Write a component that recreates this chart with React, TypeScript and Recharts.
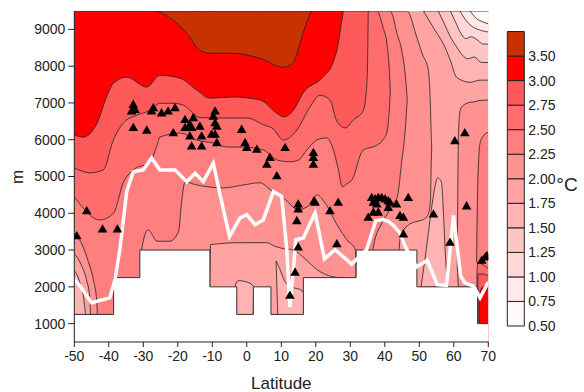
import React from "react";
import { ComposedChart, Area, Line, Scatter, XAxis, YAxis, ZAxis, BarChart, Bar } from "recharts";

// [lat, lower m, upper m]; upper defaults to the top of the plot
type Span = number[];

const TOP = 9500;
const BOT = 500;

const latTicks = [-50, -40, -30, -20, -10, 0, 10, 20, 30, 40, 50, 60, 70];
const depthTicks = [1000, 2000, 3000, 4000, 5000, 6000, 7000, 8000, 9000];

const levelLabels = ["0.50", "0.75", "1.00", "1.25", "1.50", "1.75", "2.00", "2.25", "2.50", "2.75", "3.00", "3.50"];
const bandColors = ["#fff8f8", "#ffe9e9", "#ffd7d7", "#ffc5c5", "#ffb3b3", "#ffa3a3", "#ff9191", "#ff7f7f", "#ff6d6d", "#ff5a5a", "#ff0000", "#c83200"];

const wholeField: Span[] = [[-50, BOT], [70, BOT]];

// warm side (>= level), upper part of the section
const ge200: Span[] = [[-50, 2900], [-48, 2600], [-46.5, 2200], [-45.5, 1700], [-45, 500], [-11, 500], [-10.5, 3150], [-8, 3170], [-3.8, 3200], [0, 3200], [5.8, 3200], [7.7, 3120], [10, 3050], [13.5, 3000], [17, 2750], [20.3, 2470], [24.6, 2280], [26.3, 2250], [26.8, 500], [43, 500], [44.4, 3280], [46.4, 3650, 9500], [49.3, 3780, 8780], [51, 3820, 8300], [52.5, 3950, 7950], [53.2, 4300, 7000], [53.5, 5500, 6000], [53.6, 5800, 5800]];
const ge225: Span[] = [[-50, 3450], [-48, 3200], [-46, 2700], [-44.5, 2200], [-43.5, 1600], [-43, 500], [-31, 500], [-30.5, 3000], [-28.6, 3550], [-26, 3240], [-22.3, 3240], [-19.8, 3500], [-18.9, 4300], [-17.9, 4850], [-14.5, 4770], [-6.8, 4690], [-1, 4770], [3.8, 4830], [6.8, 4640], [10.6, 4420], [14.9, 4100], [18.3, 4230], [20.3, 4500], [22.7, 4280], [26.5, 3630], [29, 3280], [31.5, 3000], [32, 500], [35.3, 500], [36.7, 3090], [39.2, 3740], [41.5, 4100, 9500], [42.2, 4250, 9400], [43.5, 4400, 8900], [44.9, 5400, 8430], [46, 6350, 7700], [46.5, 7100, 7100]];
const ge250: Span[] = [[-50, 4450], [-47, 4100], [-44, 3850], [-42.5, 3820], [-38.6, 4010], [-35.8, 4830], [-32.9, 5180], [-28, 5400], [-26, 5850], [-25.2, 6070], [-19.3, 6180], [-14.5, 5990], [-9.7, 5910], [-5.7, 5800], [-1, 5800], [4.8, 5720], [8.7, 5450], [12.5, 5400], [15, 5450], [17.4, 5720], [20.3, 5990], [23.2, 6050], [25.1, 5720], [26.5, 5200], [27.7, 4720], [29, 4800], [30.5, 4910], [33.7, 5720], [37.7, 5850, 9500], [39.5, 6000, 9050], [40.6, 6200, 8620], [41.3, 6800, 7900], [41.6, 7300, 7300]];
const ge275: Span[] = [[-50, 5230], [-45.4, 5100], [-41.6, 5180], [-38.7, 5990], [-35.8, 6450], [-31.8, 6670], [-28, 6800], [-25.2, 6990], [-21.3, 6990], [-18.4, 6940], [-13.6, 6600], [-9.7, 6590], [0, 6590], [5, 6400], [7.6, 6300], [10.6, 5990], [14.5, 6260], [18.3, 6890], [21.2, 7210], [24.1, 7080], [26, 6530], [28.5, 6320], [30.8, 6530], [33.8, 6800], [34.9, 7700], [35.1, 8700], [35.2, 9500, 9500]];
const ge300: Span[] = [[-50, 6130], [-47.5, 6070], [-43.4, 6450], [-40.5, 7200], [-38.7, 7530], [-34.8, 7700], [-29, 7430], [-25.2, 7750], [-19.3, 7670], [-14.5, 7350], [-10.7, 7130], [-4, 7160], [3.8, 7080], [8.7, 6720], [10.6, 6620], [13.5, 6800], [16.3, 7270], [22, 7700], [25, 8100], [26.5, 8600], [27.3, 9100], [28, 9500, 9500]];
const ge350: Span[] = [[-26, 9500, 9500], [-21.2, 9240], [-17.4, 8890], [-13.6, 8430], [-10.7, 8350], [-4, 8350], [3.9, 8210], [10.6, 7970], [13.5, 8100], [15.4, 8620], [17, 9100], [18.7, 9500, 9500]];

// warm pocket near the northern end
const north200: Span[] = [[61, 2600, 2600], [61.4, 2000, 6300], [62, 2000, 6850], [64, 2000, 7000], [66.8, 2000, 7050], [67, 500, 7060], [70, 500, 7080]];
const north225: Span[] = [[66.6, 2700, 2700], [67, 2600, 5000], [67.6, 2500, 5900], [68.5, 2400, 6100], [70, 2300, 6200]];
const north250: Span[] = [[66.7, 2350, 2350], [67, 500, 2650], [68.5, 500, 2600], [70, 500, 2500]];
const north275: Span[] = [[66.95, 2200, 2200], [67.1, 500, 2350], [68.5, 500, 2350], [70, 500, 2300]];
const north300: Span[] = [[67.3, 1500, 1500], [67.7, 500, 1900], [68.5, 500, 2000], [70, 500, 2050]];

// cold side (< level)
const lt175South: Span[] = [[-50, 500, 2450], [-48.5, 500, 2150], [-47.3, 500, 1700], [-46.8, 1300, 1300]];
const lt175Gap: Span[] = [[-3.3, 2050, 2050], [-2.5, 500, 2170], [0, 500, 2130], [1.6, 500, 2050], [2, 2000, 2000]];
const lt175Trough: Span[] = [[8.5, 2700, 2700], [9.5, 500, 2500], [11, 500, 2150], [13, 500, 2000], [16, 500, 1900], [16.6, 1800, 1800]];
const lt175Tongue: Span[] = [[50.5, 2000, 2000], [52, 2000, 3000], [53.5, 2000, 4100], [54.5, 2000, 4700], [55.3, 2000, 4960], [56.4, 2000, 4850], [57, 2000, 4000], [57.6, 2000, 2800], [58.3, 2000, 2000]];
const lt175Top: Span[] = [[51.2, 9500, 9500], [54.6, 8970], [56.9, 8620], [59, 8160], [60.8, 7700], [64.7, 7560], [67.6, 7620], [70, 7620]];
const lt150Top: Span[] = [[55.5, 9500, 9500], [57.5, 9100], [59, 8800], [61, 8500], [62.5, 8300], [64, 8200], [66, 8250], [68, 8100], [70, 8100]];
const lt125Top: Span[] = [[59, 9500, 9500], [60.5, 9200], [62, 8900], [63.5, 8750], [65, 8800], [67, 8700], [68.5, 8600], [70, 8600]];
const lt100Top: Span[] = [[61.8, 9500, 9500], [63.5, 9250], [65, 9100], [67, 9000], [70, 8930]];
const lt075Top: Span[] = [[64.7, 9500, 9500], [66.5, 9300], [68.5, 9200], [70, 9150]];

const layers: { band: number; pts: Span[] }[] = [
  { band: 6, pts: ge200 },
  { band: 6, pts: north200 },
  { band: 7, pts: ge225 },
  { band: 7, pts: north225 },
  { band: 8, pts: ge250 },
  { band: 8, pts: north250 },
  { band: 9, pts: ge275 },
  { band: 9, pts: north275 },
  { band: 10, pts: ge300 },
  { band: 10, pts: north300 },
  { band: 11, pts: ge350 },
  { band: 4, pts: lt175South },
  { band: 4, pts: lt175Gap },
  { band: 4, pts: lt175Trough },
  { band: 4, pts: lt175Tongue },
  { band: 4, pts: lt175Top },
  { band: 3, pts: lt150Top },
  { band: 2, pts: lt125Top },
  { band: 1, pts: lt100Top },
  { band: 0, pts: lt075Top },
];

// ridge / seafloor steps: [lat, top of bottom]
const seafloor = [[-50, 1250], [-38.6, 2250], [-31, 3000], [-10.7, 2000], [-2.9, 1250], [1.9, 2000], [7, 1250], [16.4, 2250], [31.7, 3000], [49.3, 2000], [66.9, 1000], [70, 1000]];

// white profile: [lat, m]
const profile = [[-50, 2200], [-48.3, 2020], [-45, 1570], [-39.7, 1700], [-38.2, 2200], [-36.8, 3010], [-34.8, 4600], [-32.9, 5130], [-30, 5180], [-27.6, 5500], [-25.2, 5180], [-20.8, 5180], [-17.4, 4860], [-15, 5090], [-12.6, 4860], [-9.7, 5360], [-7.5, 4400], [-5, 3370], [-2, 3870], [0, 3960], [2.4, 3690], [4.8, 3820], [7.7, 4590], [10.1, 4460], [11.6, 3010], [12.5, 1450], [13.5, 2470], [14.2, 3280], [16.4, 3330], [19.8, 4010], [22.5, 2760], [25.6, 3010], [30.4, 2620], [34.7, 3010], [37.4, 3800], [39.5, 3830], [41, 3780], [42.5, 3670], [44.4, 3460], [45.9, 3100], [49.2, 2540], [52.3, 2720], [55.2, 2060], [57.9, 2040], [59.9, 3940], [62, 2290], [63.2, 2110], [65.7, 2020], [67.6, 1700], [70, 2130]];

// triangles: [lat, m]
const stations = [
  [-32.9, 6940], [-32.4, 6800], [-33.4, 6760], [-27.1, 6850], [-27.6, 6760], [-24.7, 6710], [-22.8, 6760], [-20.8, 6850],
  [-32.9, 6310], [-29, 6240], [-21.3, 6170], [-17.9, 6530], [-16.5, 6400], [-15.5, 6580], [-13.6, 6350], [-16, 6310],
  [-17.9, 6310], [-16.5, 6080], [-13.1, 6080], [-9.7, 6620], [-9.2, 6760], [-9.2, 6440], [-8.7, 6350], [-10.2, 6130],
  [-9.2, 6130], [-8.7, 5900], [-16, 5810], [-13.1, 5810], [-1.5, 6260], [-0.5, 5900], [0, 5770], [2.9, 5720],
  [6.7, 5500], [5.8, 5310], [8.7, 5000], [11.1, 5770], [19.3, 5630], [19.3, 5500], [19.3, 5310],
  [-46.4, 4050], [-49.3, 3370], [-41.8, 3550], [-37.5, 3550],
  [14.9, 4230], [14.9, 4100], [14.5, 3780], [14.9, 3060], [14, 2380], [12.5, 1750],
  [19.5, 4320], [19.8, 4280], [24.1, 4050], [26.5, 4280], [26.1, 3150],
  [36.2, 4410], [37.2, 4370], [38.1, 4410], [39.1, 4410], [40.1, 4370], [41, 4320], [41.5, 4280], [43.4, 4230],
  [36.7, 4280], [37.7, 4230], [35.2, 3870], [36.7, 4010], [38.1, 4010], [41, 4140], [44.4, 3920], [45.4, 3870],
  [45.4, 3420], [46.8, 4410], [54.1, 3960], [58.9, 3190], [63.7, 4180], [60.3, 5950], [63.2, 6170],
  [68.1, 2700], [69.1, 2790], [69.6, 2830],
];

const toRows = (pts: Span[]) => pts.map((p) => ({ lat: p[0], v: [p[1], p.length > 2 ? p[2] : TOP] }));

const font = "'Liberation Sans', Arial, sans-serif";
const tickStyle = { fontSize: 14, fill: "#222", fontFamily: font };

const DepthLabel = () => (
  <text x={23} y={177} transform="rotate(-90, 23, 177)" textAnchor="middle" fontSize={17} fontFamily={font} fill="#222">
    m
  </text>
);

const ColorbarTick = (props: any) => {
  const { x, y, payload } = props;
  const i = payload.value;
  return (
    <g>
      <text x={x} y={y} dy={5} fontSize={14} fontFamily={font} fill="#222">
        {levelLabels[i]}
      </text>
      {i === 6 && (
        <text x={x + 28} y={y + 12} fontSize={19} fontFamily={font} fill="#222">
          °C
        </text>
      )}
    </g>
  );
};

const colorbarRow = [Object.fromEntries(bandColors.map((_, i) => ["b" + i, 1]))];

export default function App() {
  const floorRows = seafloor.map(([lat, top]) => ({ lat, top }));
  const profileRows = profile.map(([lat, m]) => ({ lat, m }));
  const stationRows = stations.map(([lat, m]) => ({ lat, m }));

  return (
    <div style={{ position: "absolute", left: 0, top: 0, width: 584, height: 392, background: "#fff" }}>
      <div style={{ position: "absolute", left: 0, top: 0 }}>
        <ComposedChart width={584} height={392} margin={{ top: 11, right: 95.7, bottom: 0, left: 0 }}>
          <XAxis
            dataKey="lat"
            type="number"
            domain={[-50, 70]}
            ticks={latTicks}
            allowDataOverflow
            height={50}
            tickSize={5}
            tickMargin={4}
            tick={tickStyle}
            stroke="#222"
            label={{ value: "Latitude", position: "insideBottom", offset: 3, fontSize: 17, fill: "#222", fontFamily: font }}
          />
          <XAxis xAxisId="top" orientation="top" type="number" domain={[-50, 70]} height={0} tick={false} tickLine={false} stroke="#555" />
          <YAxis
            type="number"
            domain={[BOT, TOP]}
            ticks={depthTicks}
            allowDataOverflow
            width={74.3}
            tickSize={6}
            tickMargin={3}
            tick={tickStyle}
            stroke="#222"
            label={<DepthLabel />}
          />
          <YAxis yAxisId="right" orientation="right" type="number" domain={[BOT, TOP]} width={0} tick={false} tickLine={false} stroke="#666" />
          <ZAxis range={[40, 40]} />

          <Area data={toRows(wholeField)} dataKey="v" type="linear" fill={bandColors[5]} fillOpacity={1} stroke="none" isAnimationActive={false} />
          {layers.map((l, i) => (
            <Area
              key={i}
              data={toRows(l.pts)}
              dataKey="v"
              type="monotone"
              fill={bandColors[l.band]}
              fillOpacity={1}
              stroke="#222"
              strokeWidth={0.8}
              isAnimationActive={false}
            />
          ))}
          <Area data={floorRows} dataKey="top" type="stepAfter" baseValue={BOT} fill="#fff" fillOpacity={1} stroke="#333" strokeWidth={1} isAnimationActive={false} />
          <Line data={profileRows} dataKey="m" type="linear" stroke="#fff" strokeWidth={3.5} dot={false} isAnimationActive={false} />
          <Scatter data={stationRows} dataKey="m" shape="triangle" fill="#000" isAnimationActive={false} />
        </ComposedChart>
      </div>
      <div style={{ position: "absolute", left: 500, top: 0 }}>
        <BarChart width={84} height={392} data={colorbarRow} margin={{ top: 31.5, right: 0, bottom: 66, left: 7.3 }} barCategoryGap={0}>
          <XAxis hide />
          <YAxis orientation="right" type="number" domain={[0, 12]} ticks={[0, 1, 2, 3, 4, 5, 6, 7, 8, 9, 10, 11]} width={59.7} axisLine={false} tickLine={false} tickSize={0} tickMargin={4} tick={<ColorbarTick />} />
          {bandColors.map((c, i) => (
            <Bar key={i} dataKey={"b" + i} stackId="cb" fill={c} stroke="#222" strokeWidth={1} isAnimationActive={false} />
          ))}
        </BarChart>
      </div>
    </div>
  );
}
